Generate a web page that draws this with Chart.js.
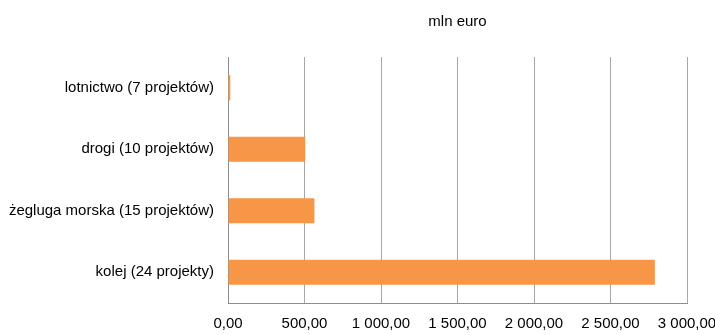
<!DOCTYPE html>
<html>
<head>
<meta charset="utf-8">
<script src="https://cdn.jsdelivr.net/npm/chart.js@4"></script>
<style>
  html, body { margin: 0; padding: 0; background: #fff; }
  #wrap { width: 715px; height: 335px; }
</style>
</head>
<body>
<div id="wrap"><canvas id="barCanvas"></canvas></div>
<script>
// ------DATA--------
const categories = ["lotnictwo (7 projektów)", "drogi (10 projektów)", "żegluga morska (15 projektów)", "kolej (24 projekty)"];
const values = [15, 505, 565, 2790]; // mln euro
const tickLabels = ["0,00", "500,00", "1 000,00", "1 500,00", "2 000,00", "2 500,00", "3 000,00"];
const unitTitle = "mln euro";

const font = { family: "'Liberation Sans', Arial, sans-serif", size: 15 };

// unit caption centred over the plot area, not the whole canvas
const unitTitlePlugin = {
    id: "unitTitle",
    afterDraw(chart) {
        const { ctx, chartArea } = chart;
        ctx.save();
        ctx.font = `${font.size}px ${font.family}`;
        ctx.fillStyle = "#000";
        ctx.textAlign = "center";
        ctx.textBaseline = "middle";
        ctx.fillText(unitTitle, (chartArea.left + chartArea.right) / 2, 22);
        ctx.restore();
    }
};

// ------CHART--------
const barCanvas = document.getElementById("barCanvas");

const barChart = new Chart(barCanvas, {
    type: "bar",
    data: {
        labels: categories,
        datasets: [
            {
                data: values,
                backgroundColor: "#f79646",
                borderWidth: 0,
                barPercentage: 0.41,
                categoryPercentage: 1
            }
        ]
    },
    options: {
        indexAxis: "y",
        responsive: true,
        maintainAspectRatio: false,
        animation: false,
        layout: { padding: { top: 57, right: 28, left: 0, bottom: 0 } },
        plugins: {
            legend: { display: false },
            tooltip: { enabled: false },
            title: { display: false }
        },
        scales: {
            x: {
                min: 0,
                max: 3000,
                afterFit: (axis) => { axis.paddingLeft = 0; axis.paddingRight = 0; axis.height = 32; },
                ticks: {
                    stepSize: 500,
                    color: "#000",
                    font: font,
                    padding: 12,
                    maxRotation: 0,
                    callback: (v, i) => tickLabels[i]
                },
                grid: { color: "#a6a6a6", lineWidth: 1, drawTicks: false },
                border: { color: "#8c8c8c", width: 1 }
            },
            y: {
                afterFit: (axis) => { axis.width = 228; },
                ticks: { color: "#000", font: font, padding: 14 },
                grid: { display: false, drawTicks: false },
                border: { color: "#8c8c8c", width: 1 }
            }
        }
    },
    plugins: [unitTitlePlugin]
});
</script>
</body>
</html>
